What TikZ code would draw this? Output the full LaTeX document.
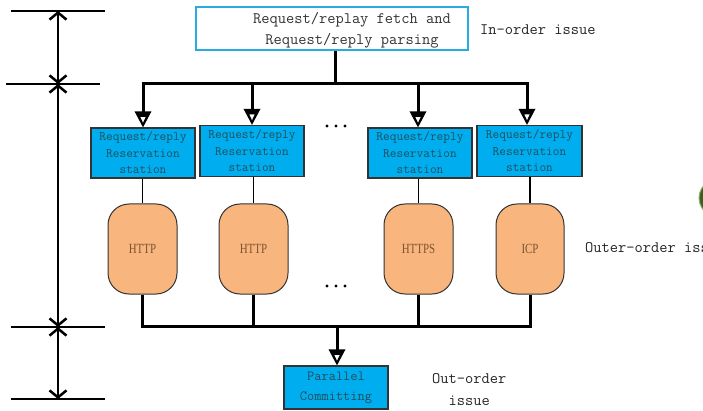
\documentclass[tikz,border=0pt]{standalone}
\usepackage{fontspec}
\usetikzlibrary{arrows.meta}
\newfontfamily\narrowserif[FakeStretch=0.78]{Liberation Serif}
\definecolor{boxcyan}{HTML}{00AEEF}
\definecolor{framecyan}{HTML}{29ABE2}
\definecolor{procorange}{HTML}{F8B67E}
\definecolor{stationtext}{HTML}{1F4E5C}
\definecolor{proctext}{HTML}{7D5433}
\definecolor{darkgreen}{HTML}{3F5F22}
\definecolor{lightgreen}{HTML}{8DB36A}
% heavy downward arrowhead with a small hollow, tip at the given point
\newcommand\heavyhead[1]{%
  \fill[black,even odd rule,shift={(#1)}]
    (-8.5,-16) -- (8.5,-16) -- (0,0) -- cycle
    (-2.8,-10.5) -- (2.8,-10.5) -- (0,-4.5) -- cycle;}
\begin{document}
\begin{tikzpicture}[x=1pt,y=-1pt,
  fetchbox/.style={draw=framecyan,line width=2pt,fill=white,minimum width=272pt,minimum height=43pt,inner sep=0pt},
  stationbox/.style={draw=black!80,line width=1.3pt,fill=boxcyan,minimum width=104pt,minimum height=50pt,inner sep=0pt,
    align=center,text=stationtext,font=\ttfamily\fontsize{13}{16.5}\selectfont},
  procbox/.style={draw=black!80,line width=1pt,fill=procorange,rounded corners=21pt,minimum width=69pt,minimum height=90pt,
    inner sep=0pt,text=proctext,font=\narrowserif\fontsize{14}{14}\selectfont},
  commitbox/.style={draw=black!80,line width=1.3pt,fill=boxcyan,minimum width=104pt,minimum height=43pt,inner sep=0pt,
    align=center,text=stationtext,font=\ttfamily\fontsize{14}{20}\selectfont},
  sidelabel/.style={anchor=west,inner sep=0pt,align=center,text=black!85,font=\ttfamily\fontsize{16}{22}\selectfont},
  busline/.style={line width=3pt},
  thinline/.style={line width=1.8pt},
  tickline/.style={line width=1.3pt},
  dimline/.style={line width=2.5pt,{Straight Barb[length=7pt,width=17pt]}-{Straight Barb[length=7pt,width=17pt]}},
  dots/.style={fill=black}
]
\useasboundingbox (0,0) rectangle (703,411);
\clip (0,0) rectangle (703,411);
\fill[white] (0,0) rectangle (703,411);

% stage markers on the left
\coordinate (m0) at (58,11);
\coordinate (m1) at (58,84);
\coordinate (m2) at (58,327);
\coordinate (m3) at (58,399);
\draw[tickline] (11,11) -- (105,11);
\draw[tickline] (6,84) -- (100,84);
\draw[tickline] (11,327) -- (105,327);
\draw[tickline] (11,399) -- (105,399);
\draw[dimline] (m0) -- (m1);
\draw[dimline] (m1) -- (m2);
\draw[dimline] (m2) -- (m3);

% fetch / parsing stage
\node[fetchbox] (fetch) at (332,28.5) {};
\node[inner sep=0pt,align=center,text=black!80,font=\ttfamily\fontsize{16}{21}\selectfont] (fetchtext) at (352,30)
  {Request/replay fetch and\\Request/reply parsing};
\node[sidelabel] (inorder) at (480,30) {In-order issue};

% reservation stations
\node[stationbox] (rs1) at (143,153) {Request/reply\\Reservation\\station};
\node[stationbox,minimum height=51pt] (rs2) at (252,151) {Request/reply\\Reservation\\station};
\node[stationbox] (rs3) at (420,153) {Request/reply\\Reservation\\station};
\node[stationbox,minimum height=51pt,minimum width=105pt] (rs4) at (529.5,151) {Request/reply\\Reservation\\station};

% dispatch bus
\coordinate (fork) at (335,84);
\coordinate (b1) at (143,84);
\coordinate (b2) at (252,84);
\coordinate (b3) at (418,84);
\coordinate (b4) at (527,84);
\coordinate (t1) at (b1 |- rs1.north);
\coordinate (t2) at (b2 |- rs2.north);
\coordinate (t3) at (b3 |- rs3.north);
\coordinate (t4) at (b4 |- rs4.north);
\draw[busline] (fetch.south -| fork) -- (fork);
\draw[busline] ([xshift=-1.5pt]b1) -- ([xshift=1.5pt]b4);
\foreach \i in {1,2,3,4} {
  \draw[busline] (b\i) -- ([yshift=12pt]t\i);
  \heavyhead{t\i}
}

% protocol units
\node[procbox] (p1) at (142.5,249) {HTTP};
\node[procbox] (p2) at (253.5,249) {HTTP};
\node[procbox] (p3) at (418.5,249) {HTTPS};
\node[procbox,minimum width=68pt] (p4) at (530,249) {ICP};
\draw[thinline] (p1.north |- rs1.south) -- (p1.north);
\draw[thinline] (p2.north |- rs2.south) -- (p2.north);
\draw[thinline] (p3.north |- rs3.south) -- (p3.north);
\draw[thinline] (p4.north |- rs4.south) -- (p4.north);

% elided units
\foreach \dx in {327,336,345} {
  \fill[dots] (\dx,126) circle (1.6pt);
  \fill[dots] (\dx,286) circle (1.6pt);
}

% commit bus
\coordinate (c1) at (142,326);
\coordinate (c4) at (530,326);
\coordinate (join) at (337,326);
\draw[busline] (p1.south) -- (p1.south |- c1);
\draw[busline] (p2.south) -- (p2.south |- c1);
\draw[busline] (p3.south) -- (p3.south |- c1);
\draw[busline] (p4.south) -- (p4.south |- c1);
\draw[busline] ([xshift=-1.5pt]c1) -- ([xshift=1.5pt]c4);

\node[commitbox] (commit) at (336,387.5) {Parallel\\Committing};
\coordinate (tc) at (join |- commit.north);
\draw[busline] (join) -- ([yshift=12pt]tc);
\heavyhead{tc}

\node[sidelabel] (outer) at (585,248) {Outer-order issue};
\node[sidelabel] (outorder) at (432,390) {Out-order\\issue};

% shape at the right edge
\draw[fill=darkgreen,draw=lightgreen,line width=1pt] (731,198) ellipse (32pt and 24pt);
\end{tikzpicture}
\end{document}
